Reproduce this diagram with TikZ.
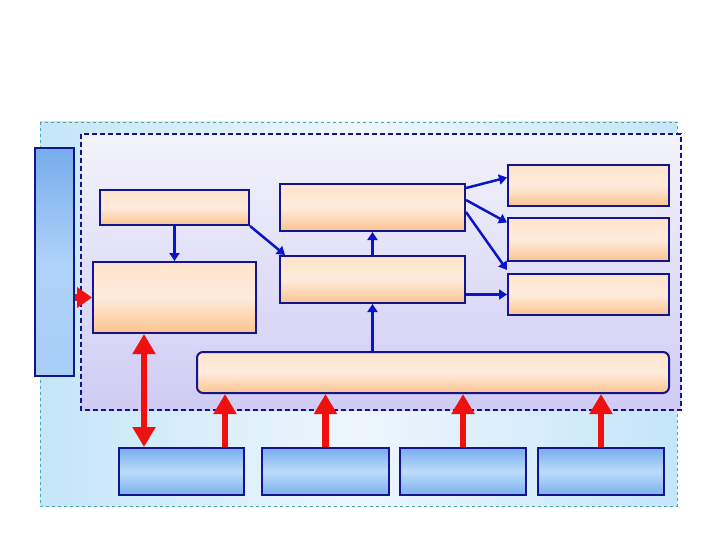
\documentclass[tikz,border=0pt]{standalone}
\usetikzlibrary{arrows.meta}
\definecolor{navy}{HTML}{14148C}
\definecolor{arrblue}{HTML}{0A14C8}
\definecolor{ored}{HTML}{F01010}
\definecolor{peachT}{HTML}{FFE4CC}
\definecolor{peachM}{HTML}{FFEBDC}
\definecolor{peachB}{HTML}{FBC48E}
\definecolor{blueT}{HTML}{78ACEE}
\definecolor{blueM}{HTML}{BCDCFA}
\definecolor{blueB}{HTML}{7CB0F0}
\definecolor{outerS}{HTML}{C4E6F8}
\definecolor{outerM}{HTML}{EEF6FC}
\definecolor{innerT}{HTML}{F3F3FB}
\definecolor{innerB}{HTML}{CFCBF4}
\tikzset{
  obox/.style={draw=navy, line width=2pt, top color=peachT, bottom color=peachB, middle color=peachM, inner sep=0pt, rectangle},
  bbox/.style={draw=navy, line width=2pt, top color=blueT, bottom color=blueB, middle color=blueM, inner sep=0pt, rectangle},
  barrow/.style={draw=arrblue, line width=2.5pt, -{Triangle[width=10pt,length=8pt]}},
  rarrow/.style={draw=ored, line width=6.5pt, -{Triangle[width=22pt,length=20pt]}},
  rdarrow/.style={draw=ored, line width=6.5pt, {Triangle[width=22pt,length=20pt]}-{Triangle[width=22pt,length=20pt]}},
}
\begin{document}
\begin{tikzpicture}[x=1pt,y=-1pt]
\useasboundingbox (0,0) rectangle (720,540);
% outer light blue box
\shade[left color=outerS, right color=outerS, middle color=outerM] (40,122) rectangle (677,506);
\draw[draw=teal!70, line width=0.6pt, dashed] (40,122) rectangle (677,506);
% inner dashed box
\shade[top color=innerT, bottom color=innerB] (81,134) rectangle (681,410);
\draw[draw=navy, line width=1.5pt, dash pattern=on 5pt off 3pt] (81,134) rectangle (681,410);
% left bar
\node[bbox, top color=blueT, bottom color=blueM!70!blueT, middle color=blueM!80!blueT, anchor=north west, minimum width=39pt, minimum height=228pt] (bar) at (34,147) {};
% orange boxes
\node[obox, anchor=north west, minimum width=149pt, minimum height=35pt] (a) at (99,189) {};
\node[obox, anchor=north west, minimum width=163pt, minimum height=71pt] (b) at (92,261) {};
\node[obox, anchor=north west, minimum width=185pt, minimum height=47pt] (c) at (279,183) {};
\node[obox, anchor=north west, minimum width=185pt, minimum height=47pt] (d) at (279,255) {};
\node[obox, anchor=north west, minimum width=161pt, minimum height=41pt] (r1) at (507,164) {};
\node[obox, anchor=north west, minimum width=161pt, minimum height=43pt] (r2) at (507,217) {};
\node[obox, anchor=north west, minimum width=161pt, minimum height=41pt] (r3) at (507,273) {};
\node[obox, rounded corners=6pt, anchor=north west, minimum width=472pt, minimum height=41pt] (bus) at (196,351) {};
% bottom blue boxes
\node[bbox, anchor=north west, minimum width=125pt, minimum height=47pt] (p1) at (118,447) {};
\node[bbox, anchor=north west, minimum width=127pt, minimum height=47pt] (p2) at (261,447) {};
\node[bbox, anchor=north west, minimum width=126pt, minimum height=47pt] (p3) at (399,447) {};
\node[bbox, anchor=north west, minimum width=126pt, minimum height=47pt] (p4) at (537,447) {};
% blue arrows
\draw[barrow] (a.south) -- (b.north);
\draw[barrow] (a.south east) -- ([xshift=6pt]d.north west);
\draw[barrow] (d.north) -- (c.south);
\draw[barrow] (bus.north -| d.south) -- (d.south);
\draw[barrow] ([yshift=-5pt]c.north east) -- ([yshift=8pt]r1.west);
\draw[barrow] ([yshift=-17pt]c.north east) -- ([yshift=17pt]r2.west);
\draw[barrow] ([yshift=-29pt]c.north east) -- ([yshift=3pt]r3.north west);
\draw[barrow] (d.east |- r3.west) -- (r3.west);
% red arrows
\draw[draw=ored, line width=6.5pt, -{Triangle[width=20pt,length=15pt]}] (bar.east |- b.west) -- (b.west);
\draw[rdarrow] ([xshift=52pt]b.south west) -- ([xshift=26pt]p1.north west);
\draw[rarrow] ([xshift=107pt]p1.north west) -- ([xshift=107pt]p1.north west |- bus.south);
\draw[rarrow] (p2.north) -- (p2.north |- bus.south);
\draw[rarrow] (p3.north) -- (p3.north |- bus.south);
\draw[rarrow] (p4.north) -- (p4.north |- bus.south);
\end{tikzpicture}
\end{document}
